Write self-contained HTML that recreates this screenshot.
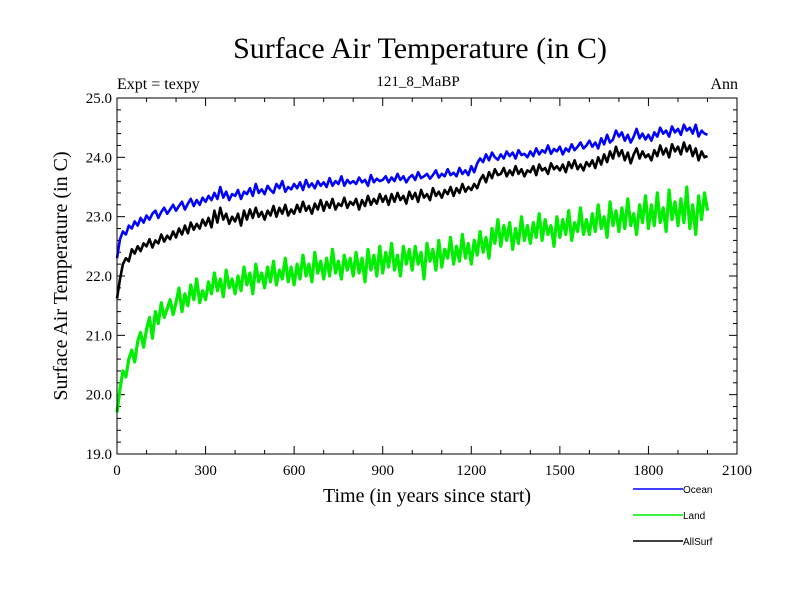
<!DOCTYPE html>
<html><head><meta charset="utf-8"><style>
body{margin:0;background:#fff;}
svg{display:block;font-family:"Liberation Serif",serif;}
</style></head><body>
<svg id="chart" width="800" height="600">
<text x="420" y="58" font-size="30" text-anchor="middle">Surface Air Temperature (in C)</text>
<text x="117" y="89" font-size="16">Expt = texpy</text>
<text x="418" y="86" font-size="15" text-anchor="middle">121_8_MaBP</text>
<text x="738" y="89" font-size="16" text-anchor="end">Ann</text>
<text x="427" y="502" font-size="20" text-anchor="middle">Time (in years since start)</text>
<text transform="translate(67,276) rotate(-90)" font-size="20" text-anchor="middle">Surface Air Temperature (in C)</text>
<g id="ticks"></g><g id="series"></g><g id="legend"></g>
<rect x="117" y="98" width="620" height="356" fill="none" stroke="#000" stroke-width="1"/>
</svg>
<script>
const startYear = 0;
const yearStep = 10;
const xTickLabels = ["0","300","600","900","1200","1500","1800","2100"];
const yTickLabels = ["19.0","20.0","21.0","22.0","23.0","24.0","25.0"];
const seriesNames = ["Ocean","Land","AllSurf"];
const ocean = [22.30,22.62,22.75,22.70,22.85,22.80,22.92,22.85,22.98,22.90,
23.02,22.95,23.05,23.10,22.98,23.08,23.15,23.05,23.12,23.20,
23.10,23.18,23.25,23.12,23.22,23.30,23.18,23.28,23.20,23.32,
23.25,23.35,23.28,23.40,23.30,23.50,23.32,23.42,23.28,23.38,
23.35,23.45,23.30,23.42,23.38,23.48,23.35,23.55,23.40,23.46,
23.38,23.52,23.45,23.40,23.55,23.48,23.60,23.42,23.50,23.46,
23.55,23.48,23.58,23.45,23.62,23.50,23.56,23.48,23.60,23.52,
23.58,23.50,23.65,23.52,23.60,23.55,23.68,23.52,23.62,23.56,
23.60,23.55,23.66,23.58,23.62,23.52,23.70,23.58,23.64,23.60,
23.62,23.68,23.58,23.66,23.60,23.72,23.62,23.68,23.58,23.66,
23.70,23.62,23.75,23.65,23.68,23.72,23.64,23.70,23.78,23.66,
23.72,23.68,23.80,23.70,23.74,23.68,23.82,23.72,23.78,23.70,
23.85,23.75,23.90,23.98,23.92,24.05,23.95,24.08,24.00,23.96,
24.05,23.98,24.10,24.02,24.08,23.98,24.12,24.04,24.06,24.00,
24.10,24.02,24.15,24.05,24.12,24.08,24.20,24.06,24.14,24.10,
24.18,24.05,24.15,24.10,24.22,24.12,24.18,24.25,24.15,24.20,
24.28,24.18,24.25,24.15,24.32,24.22,24.38,24.25,24.30,24.45,
24.35,24.42,24.28,24.38,24.25,24.35,24.48,24.32,24.40,24.30,
24.38,24.28,24.42,24.35,24.50,24.40,24.45,24.35,24.52,24.42,
24.48,24.38,24.55,24.45,24.50,24.40,24.55,24.35,24.45,24.40,24.38];
const land = [19.70,20.10,20.40,20.30,20.60,20.75,20.55,20.90,21.05,20.80,
21.10,21.30,20.95,21.40,21.20,21.55,21.30,21.45,21.60,21.35,
21.55,21.80,21.40,21.70,21.50,21.85,21.60,21.95,21.55,21.75,
21.60,21.90,21.70,22.05,21.75,21.95,21.65,22.10,21.80,21.95,
21.70,22.00,21.75,22.15,21.85,22.05,21.70,22.20,21.90,22.05,
21.80,22.15,21.90,22.25,21.85,22.10,21.95,22.30,21.90,22.15,
21.85,22.20,21.95,22.35,22.00,22.20,21.90,22.40,22.05,22.25,
21.95,22.30,22.00,22.45,22.05,22.25,21.95,22.35,22.10,22.30,
22.00,22.40,22.05,22.30,21.90,22.45,22.10,22.35,22.00,22.50,
22.05,22.40,22.15,22.55,22.10,22.35,22.00,22.50,22.20,22.45,
22.10,22.50,22.20,22.40,21.95,22.55,22.25,22.45,22.10,22.60,
22.15,22.45,22.30,22.65,22.20,22.50,22.25,22.70,22.30,22.55,
22.20,22.60,22.35,22.75,22.40,22.65,22.30,22.80,22.55,22.95,
22.50,22.85,22.60,22.90,22.45,22.80,22.55,23.00,22.60,22.85,
22.55,22.90,22.65,23.05,22.60,22.95,22.70,22.85,22.50,23.00,
22.65,22.95,22.70,23.10,22.60,22.90,22.75,23.15,22.70,22.95,
22.70,23.05,22.75,23.20,22.80,23.00,22.65,23.25,22.85,23.10,
22.75,23.15,22.80,23.30,22.85,23.05,22.70,23.20,22.90,23.35,
22.80,23.20,22.85,23.40,22.90,23.15,22.75,23.45,22.95,23.25,
22.85,23.30,22.90,23.50,22.80,23.20,22.70,23.35,22.95,23.40,23.10];
const allSurf = [21.62,21.95,22.20,22.30,22.25,22.45,22.38,22.50,22.42,22.55,
22.50,22.62,22.48,22.60,22.55,22.70,22.58,22.68,22.62,22.75,
22.65,22.80,22.70,22.85,22.72,22.90,22.78,22.88,22.80,22.95,
22.85,22.98,22.82,23.10,22.90,23.15,22.95,23.05,22.88,23.00,
22.92,23.05,22.85,23.10,22.95,23.12,22.98,23.15,23.00,23.08,
22.95,23.10,23.02,23.18,23.00,23.15,23.05,23.20,23.02,23.12,
23.05,23.20,23.08,23.25,23.10,23.18,23.05,23.22,23.12,23.28,
23.10,23.25,23.15,23.30,23.12,23.22,23.18,23.32,23.15,23.25,
23.20,23.30,23.12,23.28,23.18,23.35,23.20,23.30,23.22,23.38,
23.25,23.35,23.20,23.38,23.25,23.40,23.28,23.35,23.22,23.42,
23.30,23.40,23.25,23.45,23.32,23.38,23.28,23.48,23.35,23.42,
23.32,23.45,23.38,23.50,23.35,23.48,23.40,23.55,23.42,23.50,
23.45,23.55,23.48,23.62,23.70,23.58,23.75,23.65,23.80,23.70,
23.72,23.82,23.68,23.78,23.70,23.85,23.72,23.80,23.68,23.78,
23.75,23.85,23.70,23.88,23.78,23.82,23.72,23.90,23.80,23.85,
23.78,23.88,23.75,23.92,23.82,23.95,23.80,23.88,23.78,23.92,
23.85,23.95,23.82,24.00,23.88,24.05,23.92,24.10,23.98,24.18,
24.02,24.12,23.95,24.08,23.90,24.05,24.15,23.98,24.10,24.00,
24.05,23.95,24.12,24.02,24.20,24.05,24.15,24.00,24.22,24.10,
24.18,24.05,24.25,24.10,24.20,24.02,24.15,23.95,24.10,24.00,24.02];

const NS="http://www.w3.org/2000/svg";
const X0=117,X1=737,Y0=454,Y1=98;
const xMin=0,xMax=2100,yMin=19,yMax=25;
function xs(v){return X0+(v-xMin)/(xMax-xMin)*(X1-X0);}
function ys(v){return Y0-(v-yMin)/(yMax-yMin)*(Y0-Y1);}
function mk(tag,attrs,parent){const e=document.createElementNS(NS,tag);for(const k in attrs)e.setAttribute(k,attrs[k]);parent.appendChild(e);return e;}

const tg=document.getElementById('ticks');
for(let v=0;v<=2100;v+=100){
  const major=v%300===0, L=major?8:4, x=xs(v);
  const t1=mk('line',{x1:x,x2:x,y1:Y0,y2:Y0-L,stroke:'#000'},tg);
  
  
  const t2=mk('line',{x1:x,x2:x,y1:Y1,y2:Y1+L,stroke:'#000'},tg);
  
  
}
xTickLabels.forEach(function(s){
  const t=mk('text',{x:xs(parseFloat(s)),y:Y0+21,'font-size':15,'text-anchor':'middle'},tg);
  t.textContent=s;
  
  
});
for(let i=0;i<=30;i++){
  const v=19+i*0.2, major=i%5===0, L=major?8:4, y=ys(v);
  const t1=mk('line',{x1:X0,x2:X0+L,y1:y,y2:y,stroke:'#000'},tg);
  
  
  const t2=mk('line',{x1:X1,x2:X1-L,y1:y,y2:y,stroke:'#000'},tg);
  
  
}
yTickLabels.forEach(function(s){
  const t=mk('text',{x:X0-5,y:ys(parseFloat(s))+5,'font-size':15,'text-anchor':'end'},tg);
  t.textContent=s;
  
  
});

const sg=document.getElementById('series');
const colors=["#0000ff","#00ee00","#000000"];
const widths=[2.6,3.2,2.6];
const data=[ocean,land,allSurf];
[1,2,0].forEach(function(k){
  const arr=data[k];
  const pts=arr.map(function(v,i){return xs(startYear+i*yearStep).toFixed(1)+','+ys(v).toFixed(1);}).join(' ');
  const p=mk('polyline',{points:pts,fill:'none',stroke:colors[k],'stroke-width':widths[k],'stroke-linejoin':'round'},sg);
  
  
});

const lg=document.getElementById('legend');
seriesNames.forEach(function(n,k){
  const y=489+k*26;
  const l=mk('line',{x1:633,x2:683,y1:y,y2:y,stroke:colors[k],'stroke-width':1.5},lg);
  
  
  const t=mk('text',{x:683,y:y+4,'font-size':10,'font-family':'Liberation Sans, sans-serif'},lg);
  t.textContent=n;
  
  
});
</script>
</body></html>
